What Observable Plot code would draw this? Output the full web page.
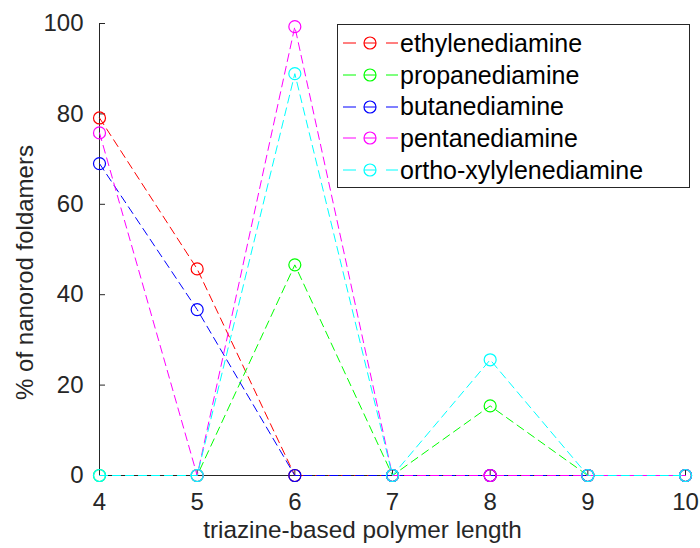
<!DOCTYPE html>
<html>
<head>
<meta charset="utf-8">
<script src="https://cdn.jsdelivr.net/npm/d3@7"></script>
<script src="https://cdn.jsdelivr.net/npm/@observablehq/plot@0.6"></script>
<style>
  body { margin: 0; background: #fff; }
  #wrap { position: relative; width: 700px; height: 548px; font-family: "Liberation Sans", Arial, sans-serif; }
  #legend { position: absolute; left: 337px; top: 24px; width: 351px; height: 162px; border: 1px solid #262626; background: #fff; }
  .row { position: absolute; left: 0; height: 30px; display: flex; align-items: center; }
  .row span { font-size: 25px; color: #000; white-space: nowrap; }
</style>
</head>
<body>
<div id="wrap"></div>
<script>
const lengths = [4, 5, 6, 7, 8, 9, 10];
const seriesNames = ["ethylenediamine", "propanediamine", "butanediamine", "pentanediamine", "ortho-xylylenediamine"];
const seriesColors = ["#ff0000", "#00ff00", "#0000ff", "#ff00ff", "#00ffff"];
const ethylenediamine = [79.1, 45.7, 0, 0, 0, 0, 0];
const propanediamine = [0, 0, 46.6, 0, 15.4, 0, 0];
const butanediamine = [69.0, 36.7, 0, 0, 0, 0, 0];
const pentanediamine = [75.8, 0, 99.3, 0, 0, 0, 0];
const orthoXylylenediamine = [0, 0, 88.9, 0, 25.6, 0, 0];
const xTicks = [4, 5, 6, 7, 8, 9, 10];
const yTicks = [0, 20, 40, 60, 80, 100];
const xLabel = "triazine-based polymer length";
const yLabel = "% of nanorod foldamers";

const allValues = [ethylenediamine, propanediamine, butanediamine, pentanediamine, orthoXylylenediamine];
const data = [];
allValues.forEach((vals, i) => vals.forEach((v, j) => data.push({series: seriesNames[i], x: lengths[j], y: v})));

const axisColor = "#262626";
const marks = [
  Plot.ruleX([4], {stroke: axisColor, strokeWidth: 1}),
  Plot.ruleY([0], {stroke: axisColor, strokeWidth: 1}),
  Plot.axisX({ticks: xTicks, tickSize: 6, dy: -6, tickFormat: () => "", stroke: axisColor, label: null}),
  Plot.axisY({ticks: yTicks, tickSize: 6, dx: 6, tickFormat: () => "", stroke: axisColor, label: null}),
  Plot.axisX({ticks: xTicks, tickSize: 0, tickPadding: 17, fill: axisColor, fontSize: 24, tickFormat: d => String(d), label: null}),
  Plot.axisY({ticks: yTicks, tickSize: 0, tickPadding: 16, fill: axisColor, fontSize: 24, tickFormat: d => String(d), label: null}),
  Plot.text([xLabel], {text: d => d, frameAnchor: "bottom", textAnchor: "middle", lineAnchor: "bottom", dx: -30, dy: 62, fontSize: 24.3, fill: axisColor}),
  Plot.text([yLabel], {text: d => d, frameAnchor: "left", textAnchor: "middle", lineAnchor: "bottom", rotate: -90, dx: -67, dy: 23, fontSize: 24, fill: axisColor})
];
seriesNames.forEach((name, i) => {
  const d = data.filter(r => r.series === name);
  marks.push(Plot.line(d, {x: "x", y: "y", stroke: seriesColors[i], strokeWidth: 1, strokeDasharray: "8,5"}));
  marks.push(Plot.dot(d, {x: "x", y: "y", r: 6, stroke: seriesColors[i], strokeWidth: 1.2, fill: "none"}));
});

const chart = Plot.plot({
  width: 700,
  height: 548,
  marginLeft: 99,
  marginRight: 15,
  marginTop: 23,
  marginBottom: 73,
  style: {fontFamily: "'Liberation Sans', Arial, sans-serif", fontSize: "24px", background: "#fff", color: axisColor, overflow: "visible"},
  x: {domain: [4, 10]},
  y: {domain: [0, 100]},
  marks
});
const wrap = document.getElementById("wrap");
wrap.appendChild(chart);

const legend = document.createElement("div");
legend.id = "legend";
seriesNames.forEach((name, i) => {
  const row = document.createElement("div");
  row.className = "row";
  row.style.top = (3.3 + i * 31.7) + "px";
  const c = seriesColors[i];
  row.innerHTML = `<svg width="62" height="30"><line x1="5" x2="18" y1="15" y2="15" stroke="${c}"/><line x1="26" x2="38" y1="15" y2="15" stroke="${c}"/><line x1="48" x2="60" y1="15" y2="15" stroke="${c}"/><circle cx="32" cy="15" r="6" fill="none" stroke="${c}" stroke-width="1.2"/></svg><span>${name}</span>`;
  legend.appendChild(row);
});
wrap.appendChild(legend);
</script>
</body>
</html>
